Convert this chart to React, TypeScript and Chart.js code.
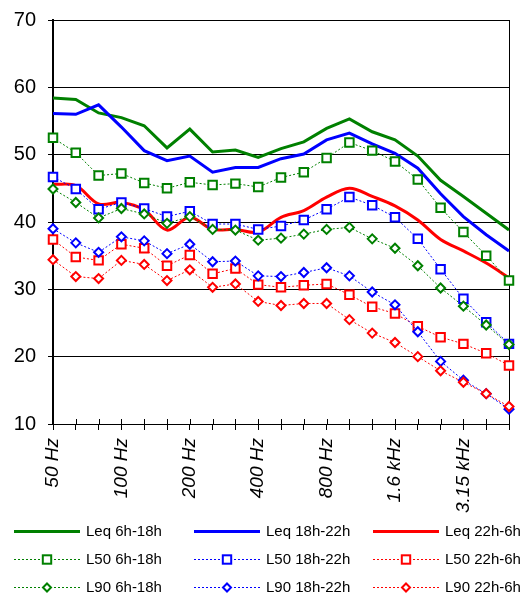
import React, { useEffect, useRef } from 'react';
import { Chart, registerables } from 'chart.js';

Chart.register(...registerables);

const categories = ['50 Hz', '63 Hz', '80 Hz', '100 Hz', '125 Hz', '160 Hz', '200 Hz', '250 Hz', '315 Hz', '400 Hz', '500 Hz', '630 Hz', '800 Hz', '1 kHz', '1.25 kHz', '1.6 kHz', '2 kHz', '2.5 kHz', '3.15 kHz', '4 kHz', '5 kHz'];
const shownTickLabels = ['50 Hz', '100 Hz', '200 Hz', '400 Hz', '800 Hz', '1.6 kHz', '3.15 kHz'];
const yMin = 10;
const yMax = 70;
const yStep = 10;

const leqDay = [58.4, 58.2, 56.2, 55.5, 54.3, 51.0, 53.8, 50.4, 50.7, 49.6, 50.9, 51.9, 53.9, 55.3, 53.4, 52.2, 49.8, 46.2, 43.8, 41.3, 38.8];
const leqEvening = [56.1, 56.0, 57.4, 54.1, 50.6, 49.1, 49.8, 47.4, 48.1, 48.1, 49.4, 50.1, 52.2, 53.2, 51.6, 50.2, 48.0, 44.2, 40.8, 38.1, 35.7];
const leqNight = [45.6, 45.4, 42.7, 42.9, 41.8, 38.8, 40.7, 38.9, 38.9, 38.5, 40.7, 41.7, 43.7, 45.0, 43.8, 42.4, 40.3, 37.4, 35.7, 33.9, 31.7];
const l50Day = [52.5, 50.3, 46.9, 47.2, 45.8, 45.0, 45.9, 45.5, 45.7, 45.2, 46.6, 47.4, 49.5, 51.8, 50.6, 49.0, 46.3, 42.1, 38.5, 35.0, 31.3];
const l50Evening = [46.7, 44.9, 41.9, 42.9, 42.0, 40.8, 41.6, 39.7, 39.7, 38.9, 39.4, 40.3, 41.9, 43.7, 42.5, 40.7, 37.5, 33.0, 28.6, 25.1, 21.9];
const l50Night = [37.4, 34.8, 34.3, 36.7, 36.1, 33.5, 35.1, 32.3, 33.1, 30.7, 30.3, 30.6, 30.8, 29.2, 27.4, 26.4, 24.5, 22.9, 21.9, 20.5, 18.7];
const l90Day = [44.9, 42.9, 40.6, 42.0, 41.2, 39.8, 40.8, 38.9, 38.8, 37.3, 37.6, 38.2, 38.9, 39.2, 37.5, 36.1, 33.5, 30.2, 27.5, 24.7, 21.8];
const l90Evening = [39.0, 36.9, 35.5, 37.8, 37.2, 35.3, 36.7, 34.1, 34.2, 32.0, 31.9, 32.5, 33.2, 32.0, 29.6, 27.7, 23.7, 19.3, 16.5, 14.5, 12.2];
const l90Night = [34.4, 31.9, 31.6, 34.3, 33.7, 31.3, 32.9, 30.3, 30.8, 28.2, 27.6, 27.9, 27.9, 25.5, 23.5, 22.1, 20.0, 17.9, 16.2, 14.5, 12.6];

const GREEN = '#008000';
const BLUE = '#0000ff';
const RED = '#ff0000';
const FONT = "'Liberation Sans', Arial, sans-serif";

function leq(label: string, data: number[], color: string, tension: number) {
  return {
    label, data, borderColor: color, backgroundColor: color, borderWidth: 3,
    pointRadius: 0, tension, fill: false, kind: 'line',
  };
}
function marked(label: string, data: number[], color: string, style: string) {
  return {
    label, data, borderColor: color, backgroundColor: color, borderWidth: 1,
    borderDash: [2, 2], pointStyle: style, pointRadius: style === 'rect' ? 6 : 4.5,
    pointBorderWidth: 2, pointBorderColor: color, pointBackgroundColor: '#ffffff',
    tension: 0, fill: false, kind: style,
  };
}

const legendPlugin = {
  id: 'gridLegend',
  afterDatasetsDraw(chart: any) {
    const ctx = chart.ctx;
    const xs = chart.scales.x;
    const area = chart.chartArea;
    ctx.save();
    ctx.strokeStyle = '#000';
    ctx.lineWidth = 1;
    ctx.beginPath();
    for (let i = 0; i < categories.length; i++) {
      const x = Math.round(xs.getPixelForTick(i)) + 0.5;
      ctx.moveTo(x, area.bottom - 5);
      ctx.lineTo(x, area.bottom);
    }
    ctx.stroke();
    ctx.restore();
  },
  afterDraw(chart: any) {
    const ctx = chart.ctx;
    const cols = [14, 194, 373];
    const rows = [531.5, 559.5, 587.5];
    ctx.save();
    chart.data.datasets.forEach((ds: any, i: number) => {
      const x0 = cols[i % 3];
      const y = rows[Math.floor(i / 3)];
      const x1 = x0 + 66;
      ctx.save();
      ctx.strokeStyle = ds.borderColor;
      ctx.lineWidth = ds.borderWidth;
      ctx.setLineDash(ds.borderDash || []);
      ctx.beginPath();
      ctx.moveTo(x0, y);
      ctx.lineTo(x1, y);
      ctx.stroke();
      ctx.setLineDash([]);
      const cx = (x0 + x1) / 2;
      if (ds.kind === 'rect') {
        ctx.fillStyle = '#fff';
        ctx.lineWidth = 2;
        ctx.fillRect(cx - 4.2, y - 4.2, 8.4, 8.4);
        ctx.strokeRect(cx - 4.2, y - 4.2, 8.4, 8.4);
      } else if (ds.kind === 'rectRot') {
        ctx.fillStyle = '#fff';
        ctx.lineWidth = 2;
        ctx.beginPath();
        ctx.moveTo(cx, y - 4);
        ctx.lineTo(cx + 4, y);
        ctx.lineTo(cx, y + 4);
        ctx.lineTo(cx - 4, y);
        ctx.closePath();
        ctx.fill();
        ctx.stroke();
      }
      ctx.restore();
      ctx.fillStyle = '#000';
      ctx.font = `15px ${FONT}`;
      ctx.textBaseline = 'middle';
      ctx.textAlign = 'left';
      ctx.fillText(ds.label, x1 + 6, y);
    });
    ctx.restore();
  },
};

export default function App() {
  const ref = useRef<HTMLCanvasElement>(null);
  useEffect(() => {
    document.body.style.margin = '0';
    if (!ref.current) return;
    const datasets: any[] = [
      leq('Leq 6h-18h', leqDay, GREEN, 0),
      leq('Leq 18h-22h', leqEvening, BLUE, 0),
      leq('Leq 22h-6h', leqNight, RED, 0.35),
      marked('L50 6h-18h', l50Day, GREEN, 'rect'),
      marked('L50 18h-22h', l50Evening, BLUE, 'rect'),
      marked('L50 22h-6h', l50Night, RED, 'rect'),
      marked('L90 6h-18h', l90Day, GREEN, 'rectRot'),
      marked('L90 18h-22h', l90Evening, BLUE, 'rectRot'),
      marked('L90 22h-6h', l90Night, RED, 'rectRot'),
    ];
    datasets.forEach((d, i) => { d.order = datasets.length - i; });
    const chart = new Chart(ref.current, {
      type: 'line',
      data: { labels: categories, datasets },
      plugins: [legendPlugin],
      options: {
        animation: false,
        responsive: false,
        layout: { padding: { left: 0, right: 22, top: 20, bottom: 70 } },
        plugins: { legend: { display: false }, tooltip: { enabled: false } },
        scales: {
          x: {
            type: 'category',
            offset: false,
            afterFit: (s: any) => { s.height = 100; s.paddingLeft = 0; s.paddingRight = 0; },
            grid: {
              color: (c: any) => (c.index === categories.length - 1 ? '#000' : 'rgba(0,0,0,0)'),
              tickColor: '#000',
              tickLength: 6,
              lineWidth: 1,
            },
            border: { display: true, color: '#000', width: 1 },
            ticks: {
              autoSkip: false,
              maxRotation: 90,
              minRotation: 90,
              padding: 8,
              color: '#000',
              font: { family: FONT, size: 19, style: 'italic' },
              callback: (_v: any, i: number) => (shownTickLabels.includes(categories[i]) ? categories[i] : ''),
            },
          },
          y: {
            min: yMin,
            max: yMax,
            afterFit: (s: any) => { s.width = 53; s.paddingTop = 0; s.paddingBottom = 0; },
            grid: { color: '#000', tickColor: '#000', tickLength: 5, lineWidth: 1 },
            border: { display: true, color: '#000', width: 2 },
            ticks: {
              stepSize: yStep,
              padding: 12,
              color: '#000',
              font: { family: FONT, size: 20 },
            },
          },
        },
      } as any,
    });
    return () => chart.destroy();
  }, []);
  return <canvas ref={ref} width={531} height={594} style={{ display: 'block' }} />;
}
